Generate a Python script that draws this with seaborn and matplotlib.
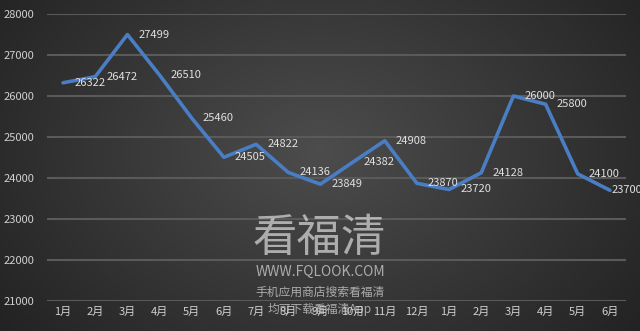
import numpy as np
import pandas as pd
import matplotlib
matplotlib.use("Agg")
import matplotlib.pyplot as plt
import seaborn as sns

months = ["1月", "2月", "3月", "4月", "5月", "6月", "7月", "8月", "9月", "10月",
          "11月", "12月", "1月", "2月", "3月", "4月", "5月", "6月"]
values = [26322, 26472, 27499, 26510, 25460, 24505, 24822, 24136, 23849, 24382,
          24908, 23870, 23720, 24128, 26000, 25800, 24100, 23700]
yticks = [21000, 22000, 23000, 24000, 25000, 26000, 27000, 28000]

sns.set_theme(style="dark")
plt.rcParams['font.family'] = ['Noto Sans CJK SC', 'DejaVu Sans']

df = pd.DataFrame({"idx": np.arange(len(values)), "value": values})

fig = plt.figure(figsize=(6.4, 3.31), dpi=100)
# radial gradient background
bg = fig.add_axes([0, 0, 1, 1], zorder=-10)
yy, xx = np.mgrid[0:331, 0:640]
r = np.sqrt(((xx - 320) / 420.0) ** 2 + ((yy - 150) / 300.0) ** 2)
shade = np.clip(0.30 - 0.17 * r, 0.1, 0.32)
bg.imshow(np.dstack([shade, shade, shade]), aspect="auto", extent=[0, 1, 0, 1])
bg.axis("off")

ax = fig.add_axes([47 / 640, 1 - 301 / 331, 579 / 640, 287 / 331])
ax.patch.set_alpha(0)
sns.lineplot(data=df, x="idx", y="value", ax=ax, color="#4a7ec4", linewidth=2.6)
ax.set_xlim(-0.5, len(values) - 0.5)
ax.set_ylim(21000, 28000)
ax.set_yticks(yticks)
ax.set_yticklabels([str(v) for v in yticks])
ax.set_xticks(np.arange(len(values)))
ax.set_xticklabels(months)
ax.grid(axis="y", color="#5a5a5a", linewidth=1.5)
ax.grid(axis="x", visible=False)
for s in ax.spines.values():
    s.set_visible(False)
ax.tick_params(axis="both", length=0, colors="#d0d0d0", labelsize=8)
ax.tick_params(axis="y", pad=9)
ax.tick_params(axis="x", pad=4)
ax.set_xlabel("")
ax.set_ylabel("")

n = len(values)
for i, v in enumerate(values):
    dx = 8 if i < n - 1 else 1
    ax.annotate(str(v), (i, v), xytext=(dx, 0), textcoords="offset points",
                ha="left", va="center", color="#e0e0e0", fontsize=8,
                annotation_clip=False)

# watermark
wm = dict(color="#d8d8d8", alpha=0.72, ha="center", va="center", zorder=5)
fig.text(319 / 640, 1 - 238 / 331, "看福清", fontsize=32, **wm)
fig.text(320 / 640, 1 - 272 / 331, "WWW.FQLOOK.COM", fontsize=10, **wm)
fig.text(320 / 640, 1 - 292 / 331, "手机应用商店搜索看福清", fontsize=8.5, **wm)
fig.text(320 / 640, 1 - 309 / 331, "均可下载看福清App", fontsize=8.5, **wm)

fig.savefig("out.png", dpi=100)
